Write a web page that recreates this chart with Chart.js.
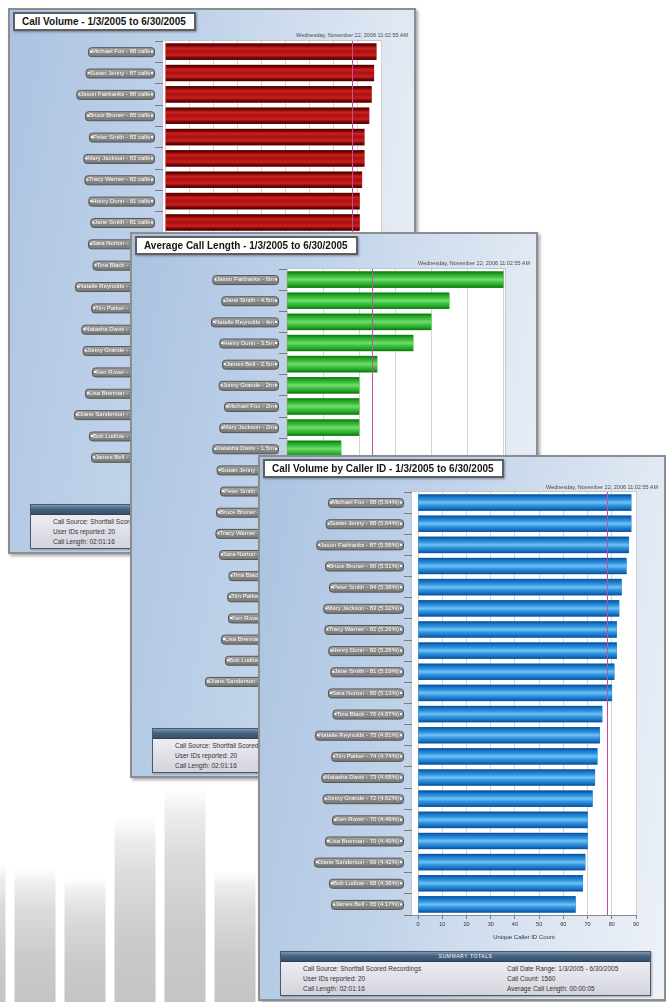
<!DOCTYPE html>
<html>
<head>
<meta charset="utf-8">
<script src="https://cdn.jsdelivr.net/npm/chart.js@4.4.1/dist/chart.umd.min.js"></script>
<style>
html,body{margin:0;padding:0;}
body{width:666px;height:1002px;background:#ffffff;position:relative;overflow:hidden;font-family:"Liberation Sans",Arial,sans-serif;}
#bgDeco{position:absolute;left:-40px;top:760px;}
.card{position:absolute;width:408px;height:546px;box-sizing:border-box;border:2px solid #8b8d91;
  background:linear-gradient(100deg,#abc3e0 0%,#c1d3ea 40%,#dde6f2 75%,#eef2f8 100%);
  box-shadow:2px 2px 3px rgba(0,0,0,0.35);}
.ttl{position:absolute;left:3px;top:2px;height:15px;line-height:15px;background:#fff;border:2px solid #5d5f63;
  box-shadow:1px 1px 2px rgba(0,0,0,0.35);font-weight:bold;font-size:10px;color:#151515;padding:0 8px 0 7px;white-space:nowrap;}
.stamp{position:absolute;right:6px;font-size:5.5px;color:#4a4a4a;white-space:nowrap;}
.cv{position:absolute;left:-2px;top:20px;}
.sum{position:absolute;left:20px;top:494px;width:371px;height:45px;box-sizing:border-box;border:1px solid #4d5866;
  box-shadow:1px 1px 2px rgba(0,0,0,0.3);}
.sumh{height:9px;line-height:9px;background:linear-gradient(#7d97b2,#45627f 45%,#36526e);color:#fff;font-size:5px;
  text-align:center;letter-spacing:0.6px;border-bottom:1px solid #2e4257;}
.sumb{position:absolute;left:0;right:0;top:10px;bottom:0;background:linear-gradient(#ececf2,#d4d4de);}
.sumb div{position:absolute;font-size:6.5px;color:#353535;white-space:nowrap;}
</style>
</head>
<body>
<canvas id="bgDeco" width="300" height="242"></canvas>

<div class="card" id="card1" style="left:8px;top:8px;z-index:1">
  <div class="ttl">Call Volume - 1/3/2005 to 6/30/2005</div>
  <div class="stamp" style="top:22px">Wednesday, November 22, 2006 11:02:55 AM</div>
  <canvas class="cv" id="c1" width="408" height="466"></canvas>
  <div class="sum"><div class="sumh">SUMMARY TOTALS</div><div class="sumb">
    <div style="left:22px;top:3px">Call Source: Shortfall Scored Recordings</div>
    <div style="left:22px;top:13px">User IDs reported: 20</div>
    <div style="left:22px;top:23px">Call Length: 02:01:16</div>
    <div style="left:226px;top:3px">Call Date Range: 1/3/2005 - 6/30/2005</div>
    <div style="left:226px;top:13px">Call Count: 1560</div>
    <div style="left:226px;top:23px">Average Call Length: 00:00:05</div>
  </div></div>
</div>

<div class="card" id="card2" style="left:130px;top:232px;z-index:2">
  <div class="ttl">Average Call Length - 1/3/2005 to 6/30/2005</div>
  <div class="stamp" style="top:26px">Wednesday, November 22, 2006 11:02:55 AM</div>
  <canvas class="cv" id="c2" width="408" height="466"></canvas>
  <div class="sum"><div class="sumh">SUMMARY TOTALS</div><div class="sumb">
    <div style="left:22px;top:3px">Call Source: Shortfall Scored Recordings</div>
    <div style="left:22px;top:13px">User IDs reported: 20</div>
    <div style="left:22px;top:23px">Call Length: 02:01:16</div>
    <div style="left:226px;top:3px">Call Date Range: 1/3/2005 - 6/30/2005</div>
    <div style="left:226px;top:13px">Call Count: 1560</div>
    <div style="left:226px;top:23px">Average Call Length: 00:00:05</div>
  </div></div>
</div>

<div class="card" id="card3" style="left:258px;top:455px;z-index:3">
  <div class="ttl">Call Volume by Caller ID - 1/3/2005 to 6/30/2005</div>
  <div class="stamp" style="top:27px">Wednesday, November 22, 2006 11:02:55 AM</div>
  <canvas class="cv" id="c3" width="408" height="466"></canvas>
  <div class="sum"><div class="sumh">SUMMARY TOTALS</div><div class="sumb">
    <div style="left:22px;top:3px">Call Source: Shortfall Scored Recordings</div>
    <div style="left:22px;top:13px">User IDs reported: 20</div>
    <div style="left:22px;top:23px">Call Length: 02:01:16</div>
    <div style="left:226px;top:3px">Call Date Range: 1/3/2005 - 6/30/2005</div>
    <div style="left:226px;top:13px">Call Count: 1560</div>
    <div style="left:226px;top:23px">Average Call Length: 00:00:05</div>
  </div></div>
</div>

<script>
// ---------------- DATA ----------------
const callerNames = ["Michael Fox","Susan Jenny","Jason Fairbanks","Bruce Bruner","Peter Smith","Mary Jackson",
  "Tracy Warner","Henry Dunn","Jane Smith","Sara Norton","Tina Black","Natalie Reynolds","Tim Parker",
  "Natasha Davis","Jonny Grande","Ken Rover","Lisa Brennan","Diane Sanderson","Bob Ludlow","James Bell"];
const callVolumeRed = [88,87,86,85,83,83,82,81,81,80,76,75,74,73,72,70,70,69,68,65];
const callVolumeBlue = [88,88,87,86,84,83,82,82,81,80,76,75,74,73,72,70,70,69,68,65];
const volumeAverage = [78];
const volumeTotal = [1560];

const lengthNames = ["Jason Fairbanks","Jane Smith","Natalie Reynolds","Henry Dunn","James Bell","Jonny Grande",
  "Michael Fox","Mary Jackson","Natasha Davis","Susan Jenny","Peter Smith","Bruce Bruner","Tracy Warner",
  "Sara Norton","Tina Black","Tim Parker","Ken Rover","Lisa Brennan","Bob Ludlow","Diane Sanderson"];
const callLength = [6,4.5,4,3.5,2.5,2,2,2,1.5,1.5,1.5,1.5,1.5,1.5,1,1,1,1,1,0.5];
const lengthAverage = [2.35];

const volumeTicks = [0,10,20,30,40,50,60,70,80,90];
const lengthTicks = [0,1,2,3,4,5,6];
const decoBars = [139,134,124,185,214,132];

// ---------------- PLUGINS ----------------
const FAM = '"Liberation Sans", Arial, sans-serif';

const plotBg = {
  id: 'plotBg',
  beforeDraw(chart) {
    const a = chart.chartArea, ctx = chart.ctx;
    ctx.save();
    ctx.fillStyle = '#ffffff';
    ctx.fillRect(a.left, a.top, a.right - a.left, a.bottom - a.top);
    ctx.strokeStyle = '#c2c6cc';
    ctx.lineWidth = 1;
    ctx.strokeRect(a.left - 0.5, a.top - 0.5, a.right - a.left + 1, a.bottom - a.top + 1);
    ctx.restore();
  }
};

const labelBoxes = {
  id: 'labelBoxes',
  beforeDraw(chart) {
    const s = chart.scales.y, ctx = chart.ctx;
    const o = s.options;
    const font = Chart.helpers.toFont(o.ticks.font);
    const right = s.right - o.grid.tickLength - o.ticks.padding + 4;
    ctx.save();
    ctx.font = font.string;
    s.ticks.forEach((t, i) => {
      const y = s.getPixelForTick(i);
      const w = ctx.measureText(s.getLabelForValue(t.value)).width;
      const left = right - w - 8, h = 9;
      ctx.beginPath();
      ctx.roundRect(left + 0.5, y - h / 2 + 0.5, right - left, h, 3);
      const g = ctx.createLinearGradient(0, y - h / 2, 0, y + h / 2);
      g.addColorStop(0, '#a9a9a9'); g.addColorStop(0.5, '#8d8d8d'); g.addColorStop(1, '#7a7a7a');
      ctx.fillStyle = g; ctx.fill();
      ctx.strokeStyle = '#555555'; ctx.lineWidth = 1; ctx.stroke();
      ctx.fillStyle = '#ffffff';
      ctx.fillRect(left + 2, y - 1, 2, 2);
      ctx.fillRect(right - 3, y - 1, 2, 2);
    });
    ctx.restore();
  }
};

const barShade = {
  id: 'barShade',
  afterDatasetsDraw(chart, args, opts) {
    const ctx = chart.ctx, meta = chart.getDatasetMeta(0);
    const horiz = chart.options.indexAxis === 'y';
    ctx.save();
    meta.data.forEach(el => {
      const p = el.getProps(['x', 'y', 'base', 'width', 'height'], true);
      let x0, y0, w, h;
      if (horiz) { x0 = Math.min(p.base, p.x); w = Math.abs(p.x - p.base); y0 = p.y - p.height / 2; h = p.height; }
      else { x0 = p.x - p.width / 2; w = p.width; y0 = Math.min(p.y, p.base); h = Math.abs(p.base - p.y); }
      const g = ctx.createLinearGradient(0, y0, 0, y0 + h);
      opts.stops.forEach(st => g.addColorStop(st[0], st[1]));
      ctx.fillStyle = g;
      ctx.fillRect(x0, y0, w, h);
    });
    ctx.restore();
  }
};

const avgLine = {
  id: 'avgLine',
  afterDatasetsDraw(chart, args, opts) {
    const a = chart.chartArea, ctx = chart.ctx;
    const x = Math.round(chart.scales.x.getPixelForValue(opts.value)) + 0.5;
    ctx.save();
    ctx.strokeStyle = '#c94aa0'; ctx.lineWidth = 1;
    ctx.beginPath(); ctx.moveTo(x, a.top); ctx.lineTo(x, a.bottom); ctx.stroke();
    ctx.restore();
  }
};

const SHADES = {
  red: [[0,'#3a0303'],[0.13,'#7a0808'],[0.28,'#cf1f1f'],[0.5,'#a51111'],[0.72,'#cf1f1f'],[0.87,'#7a0808'],[1,'#3a0303']],
  green: [[0,'#106e12'],[0.14,'#23a126'],[0.32,'#3cc23d'],[0.5,'#74dc72'],[0.68,'#3cc23d'],[0.86,'#23a126'],[1,'#106e12']],
  blue: [[0,'#0b4a93'],[0.14,'#1a72c4'],[0.32,'#2f95e0'],[0.5,'#72c2f3'],[0.68,'#2f95e0'],[0.86,'#1a72c4'],[1,'#0b4a93']]
};

function makeBar(id, cfg) {
  return new Chart(document.getElementById(id), {
    type: 'bar',
    data: { labels: cfg.labels, datasets: [{ data: cfg.values, backgroundColor: cfg.base, borderWidth: 0, barThickness: 16 }] },
    options: {
      indexAxis: 'y', responsive: false, animation: false, devicePixelRatio: 1,
      layout: { padding: { left: 0, right: cfg.padRight, top: cfg.padTop, bottom: 0 } },
      plugins: {
        legend: { display: false }, tooltip: { enabled: false }, title: { display: false },
        barShade: { stops: cfg.stops }, avgLine: { value: cfg.avg }
      },
      scales: {
        x: {
          min: cfg.min, max: cfg.max,
          afterBuildTicks: s => { s.ticks = cfg.ticks.map(v => ({ value: v })); },
          ticks: { font: { size: 5.5, family: FAM }, color: '#333', padding: 2 },
          grid: { color: '#d3d3d3', tickLength: 4, tickColor: '#7a7a7a' },
          border: { display: true, color: '#8a8a8a' },
          title: { display: !!cfg.xTitle, text: cfg.xTitle || '', font: { size: 6, family: FAM }, color: '#333', padding: { top: 0, bottom: 2 } },
          afterFit: s => { s.height = 28; }
        },
        y: {
          ticks: { font: { size: 6, family: FAM }, color: '#fbfbfb', padding: 5, autoSkip: false },
          grid: { display: true, drawOnChartArea: false, tickLength: 8, color: '#7a7a7a' },
          border: { display: false },
          afterFit: s => { s.width = cfg.axisW; }
        }
      }
    },
    plugins: [plotBg, labelBoxes, barShade, avgLine]
  });
}

makeBar('c1', {
  labels: callerNames.map((n, i) => n + ' - ' + callVolumeRed[i] + ' calls'),
  values: callVolumeRed, base: '#c01818', stops: SHADES.red, avg: volumeAverage[0],
  min: -1, max: 90, ticks: volumeTicks, padTop: 11, padRight: 35, axisW: 155, xTitle: 'Unique Caller ID Count'
});
makeBar('c2', {
  labels: lengthNames.map((n, i) => n + ' - ' + callLength[i] + 'm'),
  values: callLength, base: '#34b534', stops: SHADES.green, avg: lengthAverage[0],
  min: 0, max: 6.05, ticks: lengthTicks, padTop: 15, padRight: 33, axisW: 157, xTitle: 'Average Call Length'
});
makeBar('c3', {
  labels: callerNames.map((n, i) => n + ' - ' + callVolumeBlue[i] + ' (' + (callVolumeBlue[i] / volumeTotal[0] * 100).toFixed(2) + '%)'),
  values: callVolumeBlue, base: '#2a8bd8', stops: SHADES.blue, avg: volumeAverage[0],
  min: -2.5, max: 90, ticks: volumeTicks, padTop: 15, padRight: 30, axisW: 154, xTitle: 'Unique Caller ID Count'
});

// decorative grey bars behind the cards (they fade out at the top)
new Chart(document.getElementById('bgDeco'), {
  type: 'bar',
  data: { labels: decoBars.map((v, i) => 'b' + i), datasets: [{ data: decoBars, backgroundColor: 'rgba(0,0,0,0)', borderWidth: 0, categoryPercentage: 1, barPercentage: 0.82 }] },
  options: {
    responsive: false, animation: false, devicePixelRatio: 1,
    layout: { padding: 0 },
    plugins: { legend: { display: false }, tooltip: { enabled: false },
      barShade: { stops: [[0,'rgba(235,235,235,0)'],[0.12,'rgba(232,232,232,0.8)'],[0.3,'#dcdcdc'],[0.65,'#cbcbcb'],[1,'#c4c4c4']] } },
    scales: { x: { display: false }, y: { display: false, min: 0, max: 242 } }
  },
  plugins: [barShade]
});
</script>
</body>
</html>
